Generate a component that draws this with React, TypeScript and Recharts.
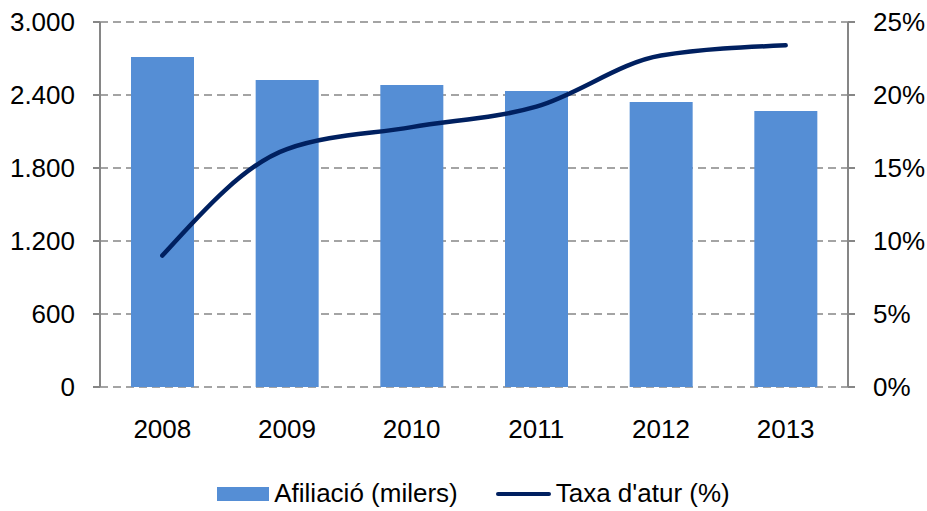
import React from "react";
import {
  ComposedChart,
  Bar,
  Line,
  XAxis,
  YAxis,
  CartesianGrid,
  Legend,
} from "recharts";

const years = ["2008", "2009", "2010", "2011", "2012", "2013"];
const afiliacio = [2712, 2523, 2482, 2433, 2342, 2268];
const taxaAtur = [9.0, 16.3, 17.8, 19.2, 22.7, 23.4];
const leftTicks = [0, 600, 1200, 1800, 2400, 3000];
const rightTicks = [0, 5, 10, 15, 20, 25];
const edgeTicks = [0, 1, 2, 3, 4, 5, 6];

const data = years.map((year, i) => ({
  year,
  idx: i + 0.5,
  afiliacio: afiliacio[i],
  atur: taxaAtur[i],
}));

const FONT = '"Liberation Sans", Arial, sans-serif';
const GREY = "#868686";
const tickStyle = { fontSize: 26, fill: "#000", fontFamily: FONT };

const fmtThousands = (v: number) =>
  String(v).replace(/\B(?=(\d{3})+(?!\d))/g, ".");

function LegendBox() {
  return (
    <div
      style={{
        display: "flex",
        justifyContent: "center",
        alignItems: "center",
        fontSize: 26,
        fontFamily: FONT,
        color: "#000",
        paddingLeft: 20,
        lineHeight: "29px",
      }}
    >
      <span
        style={{ width: 52, height: 14, background: "#558ED5", marginRight: 5 }}
      />
      <span>Afiliació (milers)</span>
      <span
        style={{
          width: 55,
          height: 4,
          background: "#002060",
          borderRadius: 2,
          marginLeft: 38,
          marginRight: 5,
        }}
      />
      <span>Taxa d'atur (%)</span>
    </div>
  );
}

export default function App() {
  return (
    <div style={{ position: "absolute", left: 0, top: 0 }}>
      <ComposedChart
        width={927}
        height={511}
        data={data}
        margin={{ top: 22, right: 0, left: 0, bottom: 64 }}
      >
        <CartesianGrid
          yAxisId="left"
          xAxisId="cat"
          vertical={false}
          stroke={GREY}
          strokeWidth={1.5}
          strokeDasharray="8 5"
        />
        <XAxis
          xAxisId="edges"
          dataKey="idx"
          type="number"
          domain={[0, 6]}
          ticks={edgeTicks}
          allowDataOverflow
          height={0}
          tick={false}
          tickSize={7}
          tickLine={{ stroke: GREY, strokeWidth: 2 }}
          axisLine={{ stroke: GREY, strokeWidth: 2 }}
        />
        <XAxis
          xAxisId="cat"
          dataKey="year"
          height={60}
          tickLine={false}
          axisLine={false}
          tickMargin={27}
          tick={tickStyle}
        />
        <YAxis
          yAxisId="left"
          domain={[0, 3000]}
          ticks={leftTicks}
          width={100}
          tickFormatter={fmtThousands}
          tick={tickStyle}
          tickSize={7}
          tickMargin={18}
          tickLine={{ stroke: GREY, strokeWidth: 2 }}
          axisLine={{ stroke: GREY, strokeWidth: 2 }}
        />
        <YAxis
          yAxisId="right"
          orientation="right"
          domain={[0, 25]}
          ticks={rightTicks}
          width={79}
          tickFormatter={(v: number) => `${v}%`}
          tick={tickStyle}
          tickSize={7}
          tickMargin={18}
          tickLine={{ stroke: GREY, strokeWidth: 2 }}
          axisLine={{ stroke: GREY, strokeWidth: 2 }}
        />
        <Bar
          xAxisId="cat"
          yAxisId="left"
          dataKey="afiliacio"
          name="Afiliació (milers)"
          fill="#558ED5"
          barSize={63}
          isAnimationActive={false}
        />
        <Line
          xAxisId="cat"
          yAxisId="right"
          dataKey="atur"
          name="Taxa d'atur (%)"
          type="monotone"
          stroke="#002060"
          strokeWidth={4.5}
          strokeLinecap="round"
          dot={false}
          activeDot={false}
          isAnimationActive={false}
        />
        <Legend
          layout="horizontal"
          verticalAlign="middle"
          align="center"
          content={() => <LegendBox />}
          wrapperStyle={{ top: 479, left: 0, width: 927 }}
        />
      </ComposedChart>
    </div>
  );
}
